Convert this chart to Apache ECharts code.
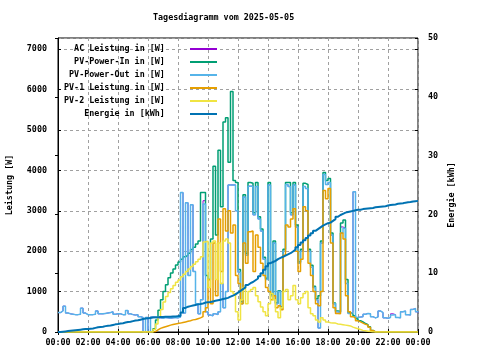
<!DOCTYPE html>
<html><head><meta charset="utf-8">
<script src="https://cdn.jsdelivr.net/npm/echarts@6/dist/echarts.min.js"></script>
<style>html,body{margin:0;padding:0;background:#fff}#c{width:480px;height:360px}</style>
</head><body><div id="c"></div>
<script>
const TITLE = 'Tagesdiagramm vom 2025-05-05';
const xTickLabels = ['00:00','02:00','04:00','06:00','08:00','10:00','12:00','14:00','16:00','18:00','20:00','22:00','00:00'];
const seriesNames = ['AC Leistung in [W]','PV-Power-In in [W]','PV-Power-Out in [W]','PV-1 Leistung in [W]','PV-2 Leistung in [W]','Energie in [kWh]'];
const STEP_HOURS = 1/6; // one sample every 10 minutes

const pvPowerOut = [
480,520,640,470,450,440, 430,430,440,590,470,430, 430,430,440,520,450,450,
460,470,480,500,440,450, 450,430,430,530,450,430, 420,430,380,360,0,360,
0,370,360,350,350,340, 360,350,340,350,360,350, 370,3450,470,3200,1400,3150,
1500,700,450,800,3170,500, 420,400,450,430,500,1200, 600,1000,3640,3640,3640,3000,
1480,700,3340,1900,3610,3610, 2900,3600,2800,2500,1800,1300, 3640,900,2200,700,1000,600,
2000,3650,3600,2900,3640,2600, 1700,2000,3600,3550,2000,1600, 1100,800,100,2200,3900,3650,
3700,2400,700,500,480,2450, 2570,1200,460,480,3470,360, 370,380,440,460,450,380,
350,370,520,480,350,340, 360,420,430,360,350,500, 520,430,420,560,580,500,
480];
const acPower = [
480,520,640,470,450,440, 430,430,440,590,470,430, 430,430,440,520,450,450,
460,470,480,500,440,450, 450,430,430,530,450,430, 420,430,380,360,0,360,
0,370,360,350,350,340, 360,350,340,350,360,350, 370,3450,470,3200,1400,3150,
1500,700,450,800,3250,500, 420,400,450,430,500,1200, 600,1000,3640,3640,3640,3000,
1480,700,3340,1900,3610,3610, 2900,3600,2800,2500,1800,1300, 3640,900,2200,700,1000,600,
2000,3650,3600,2900,3640,2600, 1700,2000,3600,3550,2000,1600, 1100,800,100,2200,3900,3650,
3700,2400,700,500,480,2600, 2570,1200,460,480,3470,360, 370,380,440,460,450,380,
350,370,520,480,350,340, 360,450,430,360,350,500, 520,430,420,560,580,500,
480];
const pvPowerIn = [
0,0,0,0,0,0, 0,0,0,0,0,0, 0,0,0,0,0,0, 0,0,0,0,0,0, 0,0,0,0,0,0, 0,0,0,0,0,0,
0,0,80,300,540,800, 1000,1170,1340,1460,1560,1660, 1730,1800,1860,1900,1950,2040,
2100,2180,2250,3450,3450,1400, 1300,2300,4100,2400,4500,3100, 5200,5300,4200,5950,3750,3700,
1550,750,3400,1950,3700,3680, 2950,3700,2850,2550,1850,1330, 3700,920,2250,720,1020,620,
2050,3700,3700,2950,3700,2650, 1730,2050,3680,3650,2050,1650, 1130,820,900,2250,3950,3750,
3800,2450,720,520,500,2700, 2770,1300,480,450,400,330, 280,250,210,180,130,40,
0,0,0,0,0,0, 0,0,0,0,0,0, 0,0,0,0,0,0, 0];
const pv1Power = [
0,0,0,0,0,0, 0,0,0,0,0,0, 0,0,0,0,0,0, 0,0,0,0,0,0, 0,0,0,0,0,0, 0,0,0,0,0,0,
0,0,10,50,90,110, 130,150,170,185,200,210, 220,235,250,265,280,300,
310,330,350,380,500,600, 1300,700,2200,900,2800,1500, 3050,2500,3000,2450,2650,1400,
1200,700,2200,1700,2480,2500, 1500,2400,2100,1700,1400,1100, 1000,800,900,600,650,550,
1900,2650,2600,2800,3050,2000, 1500,1800,3100,3000,1700,1400, 1000,700,650,1000,3500,3300,
3550,2200,600,460,450,2450, 2300,900,500,380,350,280, 250,220,190,170,120,40,
0,0,0,0,0,0, 0,0,0,0,0,0, 0,0,0,0,0,0, 0];
const pv2Power = [
0,0,0,0,0,0, 0,0,0,0,0,0, 0,0,0,0,0,0, 0,0,0,0,0,0, 0,0,0,0,0,0, 0,0,0,0,0,0,
0,0,60,200,380,560, 740,880,980,1070,1150,1230, 1290,1370,1430,1500,1560,1620,
1680,1740,1800,1860,2230,2250, 1100,2200,2250,1300,2200,1200, 2250,2300,2200,1000,950,500,
300,800,1100,700,1000,1050, 1100,900,750,620,500,400, 700,950,800,500,350,600,
1000,1050,800,900,1150,800, 700,850,950,1000,600,450, 400,300,250,350,300,250,
230,220,220,200,190,180, 170,160,150,120,100,80, 60,40,30,20,10,0,
0,0,0,0,0,0, 0,0,0,0,0,0, 0,0,0,0,0,0, 0];
const energyKWh = [
0,0.05,0.1,0.15,0.2,0.25, 0.3,0.35,0.4,0.45,0.5,0.5, 0.55,0.6,0.7,0.8,0.85,0.9,
1.0,1.05,1.1,1.2,1.3,1.35, 1.45,1.5,1.6,1.7,1.75,1.85, 1.95,2.0,2.1,2.2,2.3,2.35,
2.4,2.45,2.5,2.5,2.55,2.55, 2.6,2.6,2.6,2.65,2.65,2.7, 2.7,3.3,4.1,4.3,4.4,4.5,
4.6,4.7,4.75,4.85,5.0,5.05, 5.1,5.2,5.3,5.4,5.5,5.6, 5.7,5.8,6.0,6.2,6.4,6.7,
7.0,7.3,7.6,8.0,8.3,8.5, 8.8,9.1,9.5,10.0,10.6,11.2, 11.7,11.9,12.1,12.4,12.6,12.8,
13.0,13.2,13.4,13.7,14.0,14.4, 14.8,15.2,15.6,16.0,16.4,16.8, 17.2,17.5,17.8,18.1,18.3,18.5,
18.6,18.9,19.2,19.6,19.9,20.1, 20.3,20.4,20.5,20.6,20.7,20.8, 20.8,20.9,20.95,21.0,21.05,21.1,
21.2,21.25,21.3,21.35,21.4,21.5, 21.6,21.65,21.7,21.8,21.85,21.9, 22.0,22.05,22.1,22.2,22.25,22.3,
22.4];

const colors = ['#9400d3','#009e73','#56b4e9','#e69f00','#f0e442','#0072b2'];
const lineWidths = [1, 1.5, 1.5, 1.5, 1.5, 2];
const FONT = 'DejaVu Sans Mono';
const FS = 8.4;
const FW = 'bold';

function pairs(vals){ return vals.map((v,i)=>[i*STEP_HOURS, v]); }
const allSeries = [acPower, pvPowerIn, pvPowerOut, pv1Power, pv2Power, energyKWh];

const chart = echarts.init(document.getElementById('c'), null, {renderer:'canvas'});
const gridDash = {color:'#a0a0a0', width:1, type:[3,3]};
const tickStyle = {show:true, inside:true, length:3, lineStyle:{color:'#000'}};
const labelStyle = {color:'#000', fontFamily:FONT, fontSize:FS, fontWeight:FW};

chart.setOption({
  animation:false,
  backgroundColor:'#fff',
  title:{text:TITLE, left:153, top:14, padding:0, textStyle:{fontFamily:FONT, fontSize:FS, fontWeight:FW, color:'#000'}},
  grid:{left:58, right:62, top:38, bottom:28, show:true, borderColor:'#000', borderWidth:1, containLabel:false},
  legend:{
    show:true, orient:'vertical', left:64, top:44, padding:0, align:'right',
    icon:'rect', itemWidth:27, itemHeight:2, itemGap:3,
    itemStyle:{borderWidth:0},
    data:seriesNames,
    formatter: n => n.padStart(20,' ') + '    ',
    textStyle:{fontFamily:FONT, fontSize:FS, fontWeight:FW, color:'#000', lineHeight:10}
  },
  xAxis:[
    {type:'value', position:'bottom', min:0, max:24, interval:2,
     axisLine:{show:true, lineStyle:{color:'#000'}}, axisTick:tickStyle,
     axisLabel:Object.assign({margin:7, formatter:v=>xTickLabels[Math.round(v/2)]}, labelStyle),
     splitLine:{show:true, lineStyle:gridDash}},
    {type:'value', position:'top', min:0, max:24, interval:2,
     axisLine:{show:false}, axisTick:tickStyle, axisLabel:{show:false}, splitLine:{show:false}}
  ],
  yAxis:[
    {type:'value', position:'left', min:0, max:7277, interval:1000,
     axisLine:{show:true, lineStyle:{color:'#000'}}, axisTick:tickStyle,
     axisLabel:Object.assign({margin:11, showMaxLabel:false, formatter:v=> (v%1000===0? String(v):'')}, labelStyle),
     splitLine:{show:true, lineStyle:gridDash}},
    {type:'value', position:'right', min:0, max:50, interval:10,
     axisLine:{show:false}, axisTick:tickStyle,
     axisLabel:Object.assign({margin:10}, labelStyle), splitLine:{show:false}},
    {type:'value', position:'right', min:0, max:7277, interval:1000,
     axisLine:{show:false}, axisTick:tickStyle, axisLabel:{show:false}, splitLine:{show:false}}
  ],
  series: allSeries.map((vals, k) => ({
    type:'line', name:seriesNames[k], data:pairs(vals), step:'end',
    symbol:'none', showSymbol:false, yAxisIndex: k===5 ? 1 : 0,
    lineStyle:{color:colors[k], width:lineWidths[k]},
    itemStyle:{color:colors[k]}, z: 2 + k
  })),
  graphic:[
    {type:'text', x:10, y:185, rotation:Math.PI/2,
     style:{text:'Leistung [W]', font:FW+' '+FS+'px '+FONT, fill:'#000', align:'center', verticalAlign:'middle'}},
    {type:'text', x:452, y:195, rotation:Math.PI/2,
     style:{text:'Energie [kWh]', font:FW+' '+FS+'px '+FONT, fill:'#000', align:'center', verticalAlign:'middle'}}
  ]
});
</script>
</body></html>
